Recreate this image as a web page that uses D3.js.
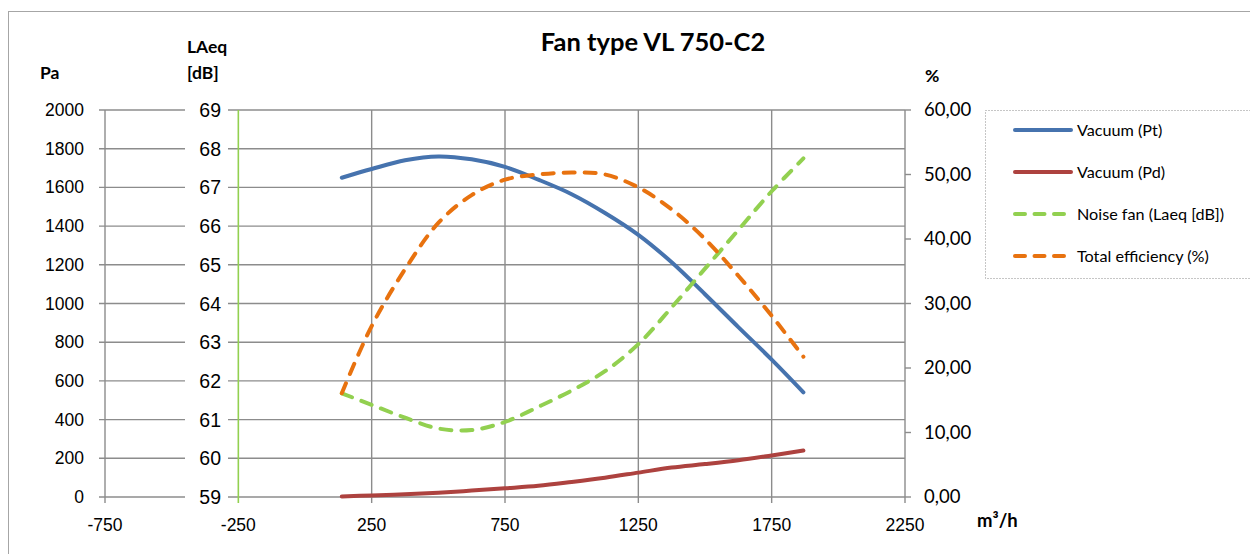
<!DOCTYPE html>
<html>
<head>
<meta charset="utf-8">
<script src="https://cdn.jsdelivr.net/npm/d3@7"></script>
<style>
  body { margin: 0; background: #fff; }
  svg { display: block; }
</style>
</head>
<body>
<div id="chart"></div>
<script>
// --- Data ---
const flow = [138, 250, 375, 500, 625, 750, 875, 1000, 1125, 1250, 1375, 1500, 1625, 1750, 1869];
const vacuumPt = [1650, 1695, 1740, 1760, 1745, 1706, 1640, 1565, 1468, 1355, 1213, 1048, 878, 710, 541];
const vacuumPd = [3, 8, 14, 22, 33, 45, 58, 78, 100, 126, 152, 170, 190, 215, 240];
const noiseFan = [61.68, 61.38, 61.05, 60.77, 60.73, 60.94, 61.33, 61.75, 62.25, 62.95, 63.9, 64.9, 65.9, 66.9, 67.75];
const efficiency = [16.1, 26.5, 35.3, 42.5, 46.8, 49.2, 50.0, 50.3, 50.0, 48.0, 44.6, 40.0, 34.3, 28.1, 21.75];

const xTicks = [-750, -250, 250, 750, 1250, 1750, 2250];
const paTicks = d3.range(0, 2001, 200);
const dbTicks = d3.range(59, 70, 1);
const pctTicks = d3.range(0, 61, 10);

const series = [
  { name: "Vacuum (Pt)", values: vacuumPt, axis: "pa", color: "#4673AE", dash: null },
  { name: "Vacuum (Pd)", values: vacuumPd, axis: "pa", color: "#AD423F", dash: null },
  { name: "Noise fan (Laeq [dB])", values: noiseFan, axis: "db", color: "#92D050", dash: "11 10" },
  { name: "Total efficiency (%)", values: efficiency, axis: "pct", color: "#E8720F", dash: "11 10" }
];

const W = 1250, H = 554;
const plot = { left: 105, right: 905, top: 110, bottom: 497 };

const svg = d3.select("#chart").append("svg")
  .attr("width", W).attr("height", H);

// outer chart border
svg.append("rect")
  .attr("x", 8.5).attr("y", 11.5)
  .attr("width", W).attr("height", H)
  .attr("fill", "none").attr("stroke", "#A6A6A6").attr("stroke-width", 1);

// --- Scales ---
const x = d3.scaleLinear().domain([-750, 2250]).range([plot.left, plot.right]);
const yPa = d3.scaleLinear().domain([0, 2000]).range([plot.bottom, plot.top]);
const yDb = d3.scaleLinear().domain([59, 69]).range([plot.bottom, plot.top]);
const yPct = d3.scaleLinear().domain([0, 60]).range([plot.bottom, plot.top]);
const yFor = { pa: yPa, db: yDb, pct: yPct };

const gridColor = "#8C8C8C";
const numFont = "'Liberation Sans', Arial, sans-serif";
const calFont = "Lato, 'Open Sans', sans-serif";

// --- Gridlines ---
const grid = svg.append("g");
grid.selectAll("line.h").data(paTicks).join("line")
  .attr("x1", plot.left - 6).attr("x2", plot.right)
  .attr("y1", d => yPa(d)).attr("y2", d => yPa(d))
  .attr("stroke", gridColor).attr("stroke-width", 1.4);

grid.selectAll("line.v").data(xTicks).join("line")
  .attr("x1", d => x(d)).attr("x2", d => x(d))
  .attr("y1", plot.top).attr("y2", plot.bottom + 6)
  .attr("stroke", d => d === -250 ? "#92D050" : gridColor)
  .attr("stroke-width", d => d === -250 ? 1.6 : 1.4);

// right axis ticks
grid.selectAll("line.r").data(pctTicks).join("line")
  .attr("x1", plot.right).attr("x2", plot.right + 6)
  .attr("y1", d => yPct(d)).attr("y2", d => yPct(d))
  .attr("stroke", gridColor).attr("stroke-width", 1.4);

// --- Axis labels ---
svg.append("g").selectAll("text").data(paTicks).join("text")
  .attr("x", 84).attr("y", d => yPa(d) + 6)
  .attr("text-anchor", "end")
  .attr("font-family", numFont).attr("font-size", 17.5)
  .text(d => d);

// LAeq labels sit on a white patch that breaks the gridline
const dbG = svg.append("g");
dbG.selectAll("rect").data(dbTicks).join("rect")
  .attr("x", 185).attr("y", d => yDb(d) - 9)
  .attr("width", 43).attr("height", 18)
  .attr("fill", "#fff");
dbG.selectAll("text").data(dbTicks).join("text")
  .attr("x", 221).attr("y", d => yDb(d) + 7)
  .attr("text-anchor", "end")
  .attr("font-family", numFont).attr("font-size", 19.5)
  .text(d => d);

svg.append("g").selectAll("text").data(pctTicks).join("text")
  .attr("x", 924).attr("y", d => yPct(d) + 6)
  .attr("font-family", calFont).attr("font-size", 18.5)
  .text(d => d3.format(".2f")(d).replace(".", ","));

svg.append("g").selectAll("text").data(xTicks).join("text")
  .attr("x", d => x(d)).attr("y", 531)
  .attr("text-anchor", "middle")
  .attr("font-family", numFont).attr("font-size", 17.5)
  .text(d => d);

// --- Titles ---
const bold = (t, px, py, size, anchor) => svg.append("text")
  .attr("x", px).attr("y", py)
  .attr("text-anchor", anchor || "start")
  .attr("font-family", calFont).attr("font-weight", "bold")
  .attr("font-size", size).text(t);

bold("Fan type VL 750-C2", 653, 51, 25.5, "middle");
bold("Pa", 40, 79, 17.5);
bold("LAeq", 187, 53, 17.5);
bold("[dB]", 187, 79, 17.5);
bold("%", 925, 82, 17.5);
bold("m³/h", 977, 527, 18.5);

// --- Lines ---
const lineFor = axis => d3.line()
  .x((d, i) => x(flow[i]))
  .y(d => yFor[axis](d))
  .curve(d3.curveCatmullRom.alpha(0.5));

svg.append("g").selectAll("path").data(series).join("path")
  .attr("d", s => lineFor(s.axis)(s.values))
  .attr("fill", "none")
  .attr("stroke", s => s.color)
  .attr("stroke-width", 4)
  .attr("stroke-linecap", "round")
  .attr("stroke-linejoin", "round")
  .attr("stroke-dasharray", s => s.dash);

// --- Legend ---
const legend = svg.append("g");
legend.append("rect")
  .attr("x", 985.5).attr("y", 110.5)
  .attr("width", 300).attr("height", 168)
  .attr("fill", "#fff")
  .attr("stroke", "#8C8C8C").attr("stroke-width", 1)
  .attr("stroke-dasharray", "1 2");

const rowY = [130, 172, 214, 256];
const item = legend.selectAll("g.item").data(series).join("g")
  .attr("transform", (d, i) => `translate(0,${rowY[i]})`);
item.append("line")
  .attr("x1", 1015).attr("x2", d => d.dash ? 1066 : 1071)
  .attr("stroke", d => d.color).attr("stroke-width", 4)
  .attr("stroke-linecap", "round")
  .attr("stroke-dasharray", d => d.dash ? "10 9.5" : null);
item.append("text")
  .attr("x", 1077).attr("y", 5.5)
  .attr("font-family", calFont).attr("font-size", 16.2)
  .text(d => d.name);
</script>
</body>
</html>
